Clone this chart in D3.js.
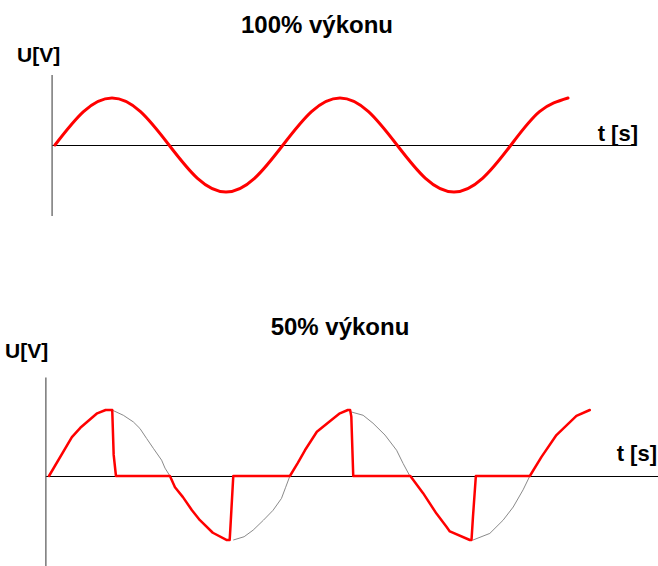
<!DOCTYPE html>
<html lang="cs">
<head>
    <meta charset="UTF-8">
    <meta name="viewport" content="initial-scale=1.0">
    <title>Výkon – průběh napětí</title>
    <script src="https://d3js.org/d3.v7.min.js"></script>
    <style>
        body {
            margin: 0;
            background: #fff;
        }
        svg text {
            font-family: "Liberation Sans", Arial, sans-serif;
            font-weight: bold;
            fill: #000;
        }
        .wave {
            fill: none;
            stroke: #ff0000;
            stroke-linejoin: round;
            stroke-linecap: round;
        }
        .ghost {
            fill: none;
            stroke: #8a8a8a;
            stroke-width: 1;
        }
    </style>
</head>
<body>
    <div id="graph"></div>

    <script>
        // t in ms (50 Hz, one period = 20 ms), U normalised to the peak value
        const titles = ["100% výkonu", "50% výkonu"];
        const yLabel = "U[V]";
        const xLabel = "t [s]";

        // full sine, 100 % power
        const fullT = [0, 2.5, 5, 7.5, 10, 12.5, 15, 17.5, 20, 22.5, 25, 27.5, 30, 32.5, 35, 37.5, 40, 42.5, 45];
        const fullU = [0, 0.71, 1, 0.71, 0, -0.71, -1, -0.71, 0, 0.71, 1, 0.71, 0, -0.71, -1, -0.71, 0, 0.71, 1];

        // chopped sine, 50 % power (hand drawn in the original)
        const halfT = [0, 1.9, 2.6, 3.3, 4.0, 4.7, 5.25, 5.37, 5.56, 10,
            10.04, 10.46, 11.12, 11.87, 12.53, 13.6, 14.77, 15.0, 15.05, 15.3, 20,
            20.66, 21.25, 22.24, 23.32, 24.15, 24.81, 25.0, 25.1, 25.26, 30,
            31.06, 32.17, 33.0, 33.28, 34.94, 35.08, 35.2, 35.44, 39.92,
            40.89, 42.13, 43.79, 44.9];
        const halfU = [0, 0.59, 0.73, 0.84, 0.95, 1.0, 1.0, 0.32, 0, 0,
            0, -0.17, -0.32, -0.52, -0.67, -0.86, -0.97, -0.97, -0.82, 0, 0,
            0.2, 0.39, 0.67, 0.83, 0.95, 1.0, 1.0, 0.9, 0, 0,
            -0.26, -0.57, -0.77, -0.84, -0.97, -0.97, -0.62, 0, 0,
            0.29, 0.62, 0.91, 1.0];

        // thin grey remainder of the sine where the power is cut off
        const cutT = [
            [5.23, 6.17, 7.0, 7.55, 8.1, 8.66, 9.35, 9.63, 10.04],
            [15.3, 16.2, 16.95, 17.8, 18.6, 19.3, 19.65, 20],
            [25.1, 26.08, 26.9, 27.9, 28.86, 29.4, 29.96],
            [35.2, 36.6, 37.7, 38.54, 39.36, 39.92]
        ];
        const cutU = [
            [1.0, 0.92, 0.82, 0.72, 0.57, 0.42, 0.24, 0.12, 0],
            [-0.97, -0.92, -0.82, -0.67, -0.52, -0.34, -0.17, 0],
            [0.97, 0.92, 0.8, 0.62, 0.39, 0.19, 0],
            [-0.97, -0.87, -0.67, -0.47, -0.21, 0]
        ];

        const tAxis = [-0.3, 50.6];
        const uAxis = [-1.5, 1.5];

        const width = 658;
        const height = 566;

        const svg = d3.select("#graph")
            .append("svg")
            .attr("width", width)
            .attr("height", height);

        const zip = (ts, us) => ts.map((t, i) => [t, us[i]]);

        function drawPanel(cfg) {
            const x = d3.scaleLinear().domain([0, 45]).range(cfg.xRange);
            const y = d3.scaleLinear().domain([-1, 1]).range(cfg.yRange);

            const g = svg.append("g");

            // axes without ticks, only the lines
            const xa = d3.scaleLinear().domain(tAxis).range(tAxis.map(x));
            const ya = d3.scaleLinear().domain(uAxis).range(uAxis.map(y));

            g.append("g")
                .attr("transform", `translate(0,${y(0)})`)
                .call(d3.axisBottom(xa).tickValues([]).tickSizeOuter(0))
                .select(".domain")
                .attr("stroke", "#000")
                .attr("stroke-width", 1.2);

            g.append("g")
                .attr("transform", `translate(${xa(tAxis[0])},0)`)
                .call(d3.axisLeft(ya).tickValues([]).tickSizeOuter(0))
                .select(".domain")
                .attr("stroke", "#555")
                .attr("stroke-width", 1.2);

            const line = d3.line()
                .x(d => x(d[0]))
                .y(d => y(d[1]))
                .curve(cfg.curve);

            if (cfg.ghost) {
                g.selectAll(".ghost")
                    .data(cfg.ghost)
                    .enter().append("path")
                    .attr("class", "ghost")
                    .attr("d", d3.line().x(d => x(d[0])).y(d => y(d[1])));
            }

            g.append("path")
                .attr("class", "wave")
                .attr("stroke-width", cfg.strokeWidth)
                .attr("d", line(cfg.points));

            g.append("text")
                .attr("x", cfg.titlePos[0])
                .attr("y", cfg.titlePos[1])
                .attr("text-anchor", "middle")
                .style("font-size", "24px")
                .text(cfg.title);

            g.append("text")
                .attr("x", cfg.yLabelPos[0])
                .attr("y", cfg.yLabelPos[1])
                .style("font-size", "21px")
                .text(yLabel);

            g.append("text")
                .attr("x", cfg.xLabelPos[0])
                .attr("y", cfg.xLabelPos[1])
                .attr("text-anchor", "end")
                .style("font-size", "22px")
                .text(xLabel);
        }

        drawPanel({
            title: titles[0],
            points: zip(fullT, fullU),
            curve: d3.curveNatural,
            strokeWidth: 3,
            xRange: [55, 568],
            yRange: [192, 98],
            titlePos: [317, 33],
            yLabelPos: [17, 62],
            xLabelPos: [638, 141]
        });

        drawPanel({
            title: titles[1],
            points: zip(halfT, halfU),
            ghost: cutT.map((ts, i) => zip(ts, cutU[i])),
            curve: d3.curveLinear,
            strokeWidth: 2.5,
            xRange: [49, 591],
            yRange: [542, 410],
            titlePos: [340, 335],
            yLabelPos: [5, 358],
            xLabelPos: [657, 461]
        });
    </script>
</body>
</html>
